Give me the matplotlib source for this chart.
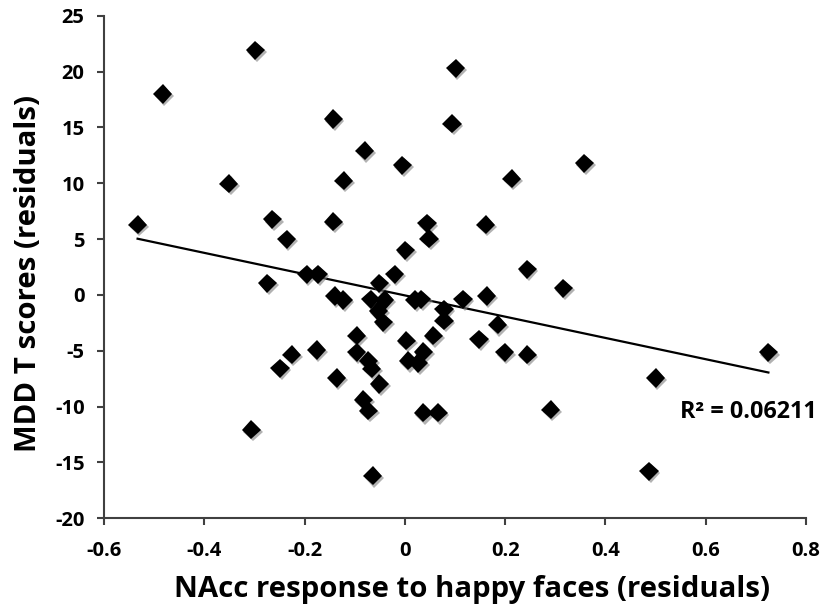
import numpy as np
import matplotlib
matplotlib.use("Agg")
import matplotlib.pyplot as plt
import matplotlib.patheffects as pe

nacc = [-0.298, -0.483, -0.143, -0.080, -0.005, -0.351, -0.122, -0.533, -0.264, -0.236,
        -0.143, 0.044, 0.048, 0.001, 0.101, 0.094, 0.358, 0.213, 0.161, 0.244,
        0.316, 0.116, 0.163, 0.185, 0.148, 0.199, 0.244, 0.725, 0.500, 0.291,
        0.487, 0.078, 0.078, 0.057, -0.274, -0.196, -0.173, -0.020, -0.051, -0.140,
        -0.123, -0.068, -0.040, -0.053, -0.043, 0.020, 0.033, 0.003, -0.096, -0.096,
        -0.073, -0.066, 0.007, 0.027, 0.037, -0.226, -0.249, -0.176, -0.136, -0.051,
        -0.083, -0.073, 0.037, 0.066, -0.306, -0.064]
mdd = [21.9, 18.0, 15.75, 12.9, 11.6, 9.95, 10.24, 6.3, 6.76, 4.97,
       6.55, 6.4, 5.03, 4.0, 20.3, 15.33, 11.8, 10.4, 6.3, 2.29,
       0.6, -0.38, -0.09, -2.68, -3.96, -5.15, -5.36, -5.15, -7.44, -10.27,
       -15.8, -1.28, -2.3, -3.66, 1.04, 1.85, 1.85, 1.85, 1.04, -0.09,
       -0.45, -0.38, -0.45, -1.43, -2.46, -0.45, -0.38, -4.1, -3.66, -5.15,
       -5.9, -6.6, -5.9, -6.1, -5.1, -5.36, -6.57, -4.94, -7.44, -7.97,
       -9.37, -10.36, -10.56, -10.56, -12.05, -16.2]

x_ticks = [-0.6, -0.4, -0.2, 0, 0.2, 0.4, 0.6, 0.8]
x_tick_labels = ["-0.6", "-0.4", "-0.2", "0", "0.2", "0.4", "0.6", "0.8"]
y_ticks = [-20, -15, -10, -5, 0, 5, 10, 15, 20, 25]
y_tick_labels = [str(v) for v in y_ticks]
r2_label = "R² = 0.06211"
xlabel = "NAcc response to happy faces (residuals)"
ylabel = "MDD T scores (residuals)"

plt.rcParams['font.family'] = ['Open Sans', 'DejaVu Sans']
plt.rcParams['font.weight'] = 'bold'

fig = plt.figure(figsize=(8.27, 6.11), dpi=100)
ax = fig.add_axes([104/827, 1-518.3/611, (806-104)/827, (518.3-15.7)/611])

x = np.array(nacc)
y = np.array(mdd)

ax.plot(x, y, linestyle='none', marker='D', markersize=9.8, color='black',
        markeredgewidth=0, zorder=3,
        path_effects=[pe.SimplePatchShadow(offset=(1.2, -1.5), shadow_rgbFace='gray', alpha=0.6),
                      pe.Normal()])

slope, intercept = np.polyfit(x, y, 1)
xl = np.array([x.min(), x.max()])
ax.plot(xl, slope * xl + intercept, color='black', linewidth=1.6, zorder=2)

ax.text(0.548, -10.47, r2_label, fontsize=16.8, fontweight='bold', va='center', ha='left',
        clip_on=False)

ax.set_xlim(-0.6, 0.8)
ax.set_ylim(-20, 25)
ax.set_xticks(x_ticks)
ax.set_xticklabels(x_tick_labels)
ax.set_yticks(y_ticks)
ax.set_yticklabels(y_tick_labels)

for s in ['top', 'right']:
    ax.spines[s].set_visible(False)
for s in ['left', 'bottom']:
    ax.spines[s].set_color('#404040')
    ax.spines[s].set_linewidth(1.5)

ax.tick_params(axis='both', direction='out', length=5, width=1.5, color='#404040',
               labelsize=14.5)
ax.tick_params(axis='x', pad=11)
ax.tick_params(axis='y', pad=9)
for lab in ax.get_xticklabels() + ax.get_yticklabels():
    lab.set_fontweight('bold')

ax.set_xlabel(xlabel, fontsize=21.2, fontweight='bold')
ax.set_ylabel(ylabel, fontsize=21.2, fontweight='bold')
ax.xaxis.set_label_coords((472 - 104) / 702, (518.3 - 589) / 502.6)
ax.xaxis.label.set_va('center')
ax.yaxis.set_label_coords((29 - 104) / 702, (518.3 - 273) / 502.6)
ax.yaxis.label.set_va('center')

fig.savefig("out.png", dpi=100)
